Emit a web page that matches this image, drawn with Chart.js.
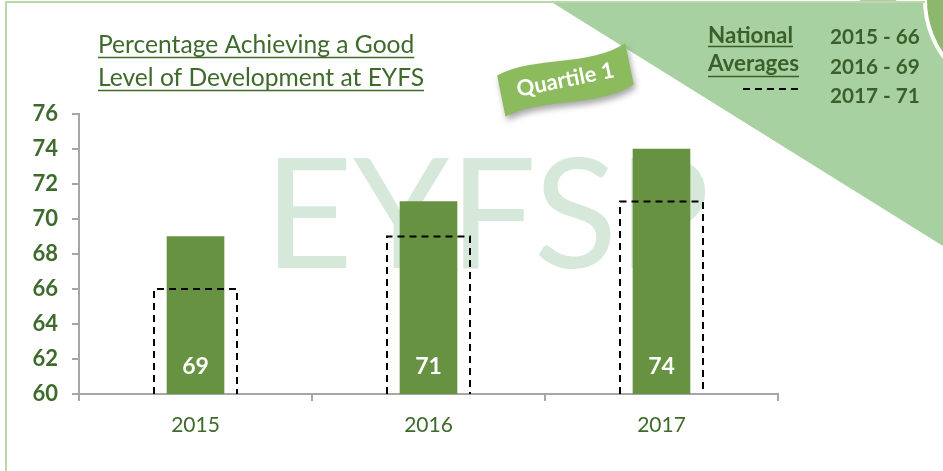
<!DOCTYPE html>
<html>
<head>
<meta charset="utf-8">
<script src="https://cdn.jsdelivr.net/npm/chart.js@4/dist/chart.umd.min.js"></script>
<style>
html, body { margin: 0; padding: 0; background: #fff; }
#wrap { width: 943px; height: 471px; }
</style>
</head>
<body>
<div id="wrap"><canvas id="gldChart" width="943" height="471"></canvas></div>
<script>
// data
var years = ["2015", "2016", "2017"];
var schoolGLD = [69, 71, 74];
var nationalGLD = [66, 69, 71];
var yMin = 60, yMax = 76, yStep = 2;
var titleLines = ["Percentage Achieving a Good", "Level of Development at EYFS"];
var legendWords = ["National", "Averages"];
var quartileText = "Quartile 1";
var watermarkText = "EYFSP";

var FAMILY = "Lato, 'Open Sans', sans-serif";
var DARK = "#3e6a2b";
var BAR = "#679242";

// pick a font size so the text comes out at the wanted width
function fitFont(ctx, text, weight, width) {
    ctx.font = weight + " 100px " + FAMILY;
    var size = 100 * width / ctx.measureText(text).width;
    return weight + " " + size.toFixed(1) + "px " + FAMILY;
}

function underline(ctx, x, y, w) {
    ctx.beginPath();
    ctx.moveTo(x, y);
    ctx.lineTo(x + w, y);
    ctx.stroke();
}

var decorPlugin = {
    id: 'decor',
    beforeDraw: function(chart) {
        var ctx = chart.ctx;
        ctx.save();
        ctx.fillStyle = "#fff";
        ctx.fillRect(0, 0, chart.width, chart.height);

        // green triangle top right
        ctx.fillStyle = "#a8d1a1";
        ctx.beginPath();
        ctx.moveTo(553, 3);
        ctx.lineTo(943, 3);
        ctx.lineTo(943, 246);
        ctx.closePath();
        ctx.fill();

        // corner circles
        ctx.fillStyle = "#b4c9a6";
        ctx.beginPath();
        ctx.ellipse(878, -8, 24, 13, 0, 0, Math.PI * 2);
        ctx.fill();
        ctx.fillStyle = "#8db76c";
        ctx.strokeStyle = "#fff";
        ctx.lineWidth = 4;
        ctx.beginPath();
        ctx.arc(1020, 0, 95, 0, Math.PI * 2);
        ctx.fill();
        ctx.stroke();

        // frame lines
        ctx.strokeStyle = "#b9d9a6";
        ctx.lineWidth = 2;
        ctx.beginPath();
        ctx.moveTo(6, 471);
        ctx.lineTo(6, 2);
        ctx.lineTo(925, 2);
        ctx.stroke();

        // watermark
        ctx.fillStyle = "#d6e8da";
        ctx.font = fitFont(ctx, watermarkText, "normal", 446);
        ctx.textBaseline = "alphabetic";
        ctx.textAlign = "left";
        ctx.fillText(watermarkText, 264, 268);
        ctx.restore();
    },
    afterDatasetsDraw: function(chart) {
        var ctx = chart.ctx;
        var base = chart.scales.y.getPixelForValue(yMin);
        ctx.save();
        // national average boxes
        ctx.strokeStyle = "#000";
        ctx.lineWidth = 2;
        ctx.setLineDash([7, 5]);
        chart.getDatasetMeta(1).data.forEach(function(bar) {
            var l = bar.x - bar.width / 2, r = bar.x + bar.width / 2;
            ctx.beginPath();
            ctx.moveTo(l, base);
            ctx.lineTo(l, bar.y);
            ctx.lineTo(r, bar.y);
            ctx.lineTo(r, base);
            ctx.stroke();
        });
        ctx.setLineDash([]);
        // values inside school bars
        ctx.fillStyle = "#fff";
        ctx.font = "bold 23px " + FAMILY;
        ctx.textAlign = "center";
        ctx.textBaseline = "middle";
        chart.getDatasetMeta(0).data.forEach(function(bar, i) {
            ctx.fillText(schoolGLD[i], bar.x, base - 27);
        });
        ctx.restore();
    },
    afterDraw: function(chart) {
        var ctx = chart.ctx;
        ctx.save();
        ctx.textAlign = "left";
        ctx.textBaseline = "alphabetic";

        // title
        ctx.fillStyle = DARK;
        ctx.strokeStyle = DARK;
        ctx.lineWidth = 1.3;
        ctx.font = fitFont(ctx, titleLines[0], "normal", 316);
        ctx.fillText(titleLines[0], 98, 53);
        underline(ctx, 98, 57.5, ctx.measureText(titleLines[0]).width);
        ctx.fillText(titleLines[1], 98, 86);
        underline(ctx, 98, 90.5, ctx.measureText(titleLines[1]).width);

        // national averages key
        ctx.fillStyle = "#3a5f2a";
        ctx.strokeStyle = "#3a5f2a";
        ctx.lineWidth = 1.6;
        ctx.font = fitFont(ctx, legendWords[0], "bold", 85);
        ctx.fillText(legendWords[0], 708, 43);
        underline(ctx, 708, 46.5, ctx.measureText(legendWords[0]).width);
        ctx.fillText(legendWords[1], 708, 71);
        underline(ctx, 708, 76.5, ctx.measureText(legendWords[1]).width);
        ctx.strokeStyle = "#000";
        ctx.lineWidth = 2;
        ctx.setLineDash([7, 5]);
        underline(ctx, 743, 89, 56);
        ctx.setLineDash([]);
        ctx.font = fitFont(ctx, years[0] + " - " + nationalGLD[0], "bold", 90);
        years.forEach(function(yr, i) {
            ctx.fillText(yr + " - " + nationalGLD[i], 830, 44 + i * 29.5);
        });

        // quartile ribbon
        ctx.translate(565, 78);
        ctx.rotate(-0.2);
        ctx.shadowColor = "rgba(0,0,0,0.35)";
        ctx.shadowBlur = 6;
        ctx.shadowOffsetX = 2;
        ctx.shadowOffsetY = 4;
        ctx.fillStyle = "#8bbb5c";
        ctx.beginPath();
        ctx.moveTo(-66, -16);
        ctx.bezierCurveTo(-25, -28, 25, -6, 66, -22);
        ctx.lineTo(66, 20);
        ctx.bezierCurveTo(25, 36, -25, 14, -66, 26);
        ctx.closePath();
        ctx.fill();
        ctx.shadowColor = "transparent";
        ctx.fillStyle = "#fff";
        ctx.font = "bold 22px " + FAMILY;
        ctx.textAlign = "center";
        ctx.textBaseline = "middle";
        ctx.fillText(quartileText, 0, 2);
        ctx.restore();
    }
};

var ctx = document.getElementById("gldChart").getContext('2d');
new Chart(ctx, {
    type: 'bar',
    data: {
        labels: years,
        datasets: [{
            label: 'School',
            data: schoolGLD,
            backgroundColor: BAR,
            barThickness: 57,
            grouped: false,
            order: 1
        }, {
            label: 'National Average',
            data: nationalGLD,
            backgroundColor: 'rgba(0,0,0,0)',
            barThickness: 83,
            grouped: false,
            order: 0
        }]
    },
    options: {
        responsive: false,
        animation: false,
        events: [],
        layout: {
            padding: { top: 114, left: 0, right: 165, bottom: 0 }
        },
        plugins: {
            legend: { display: false },
            title: { display: false },
            tooltip: { enabled: false }
        },
        scales: {
            y: {
                min: yMin,
                max: yMax,
                afterFit: function(scale) { scale.width = 79; },
                ticks: {
                    stepSize: yStep,
                    padding: 14,
                    color: DARK,
                    font: { family: FAMILY, size: 22, weight: 'bold' }
                },
                grid: { drawOnChartArea: false, tickLength: 7, color: '#a6a6a6', lineWidth: 2 },
                border: { color: '#a6a6a6', width: 2 }
            },
            x: {
                afterFit: function(scale) { scale.height = 77; },
                ticks: {
                    padding: 12,
                    color: DARK,
                    font: { family: FAMILY, size: 21 }
                },
                grid: { drawOnChartArea: false, offset: true, tickLength: 7, color: '#a6a6a6', lineWidth: 2 },
                border: { color: '#a6a6a6', width: 2 }
            }
        }
    },
    plugins: [decorPlugin]
});
</script>
</body>
</html>
